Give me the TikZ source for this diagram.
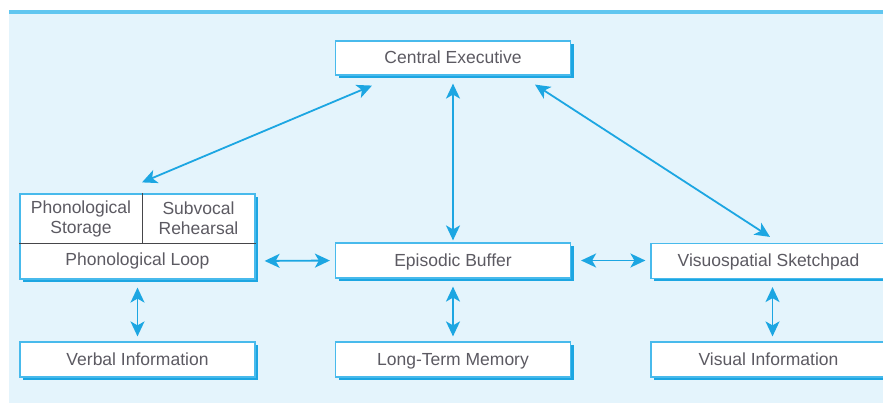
\documentclass[tikz,border=0pt]{standalone}
\usepackage{fontspec}
\setmainfont{Liberation Sans}
\usetikzlibrary{arrows.meta,shadows}
\definecolor{bgblue}{RGB}{228,244,252}
\definecolor{bandblue}{RGB}{96,198,240}
\definecolor{linkblue}{RGB}{28,166,226}
\definecolor{edgeblue}{RGB}{72,186,236}
\definecolor{textgrey}{RGB}{92,90,98}
\definecolor{splitgrey}{RGB}{70,70,74}
\tikzset{
  box/.style={draw=edgeblue, line width=1.2pt, fill=white, minimum width=235pt,
    minimum height=35pt, inner sep=0pt, text height=12.5pt, text depth=0.5pt,
    drop shadow={shadow xshift=3pt, shadow yshift=-3pt, fill=linkblue, opacity=1}},
  lbl/.style={text=textgrey, font=\fontsize{17.5}{20}\selectfont, align=center},
  link/.style={draw=linkblue, line width=1.8pt,
    {Stealth[length=15pt,width=14pt,inset=4pt]}-{Stealth[length=15pt,width=14pt,inset=4pt]}},
  divider/.style={draw=splitgrey, line width=0.9pt}
}
\begin{document}
\begin{tikzpicture}[x=1pt,y=-1pt]
\useasboundingbox (0,0) rectangle (883,403);
% Backdrop with the band on top
\fill[bgblue] (9,12) rectangle (883,403);
\draw[bandblue, line width=4.5pt] (9,12) -- (883,12);

% Boxes
\node[box, lbl, minimum height=34pt] (ce) at (453,58) {Central Executive};
\node[box, lbl] (eb) at (453,260.5) {Episodic Buffer};
\node[box, lbl] (vs) at (768.5,261) {Visuospatial Sketchpad};
\node[box, lbl] (verbal) at (137.5,359.5) {Verbal Information};
\node[box, lbl] (ltm) at (453,359.5) {Long-Term Memory};
\node[box, lbl] (visual) at (768.5,359.5) {Visual Information};

% Phonological loop with its two parts above
\node[box, minimum height=85pt] (phono) at (137.5,236.5) {};
\coordinate (split) at (142,243);
\draw[divider] (phono.west |- split) -- (phono.east |- split);
\draw[divider] (phono.north -| split) -- (split);
\node[lbl] (pstore) at (81,218.5) {Phonological\\Storage};
\node[lbl] (srehe) at (198.5,218.5) {Subvocal\\Rehearsal};
\node[lbl] (ploop) at (137.5,261) {Phonological Loop};

% Links from the central executive
\draw[link] ([xshift=-81pt,yshift=-10pt]ce.south) -- ([xshift=4.5pt,yshift=11pt]phono.north);
\draw[link, shorten <=8pt, shorten >=2pt] (ce.south) -- (eb.north);
\draw[link] ([xshift=82pt,yshift=-9pt]ce.south) -- ([xshift=1.5pt,yshift=6pt]vs.north);

% Links along the middle row
\draw[link, shorten <=9pt, shorten >=5pt] (phono.east |- ploop) -- (eb.west);
\draw[link, shorten <=10pt, shorten >=5pt] (eb.east) -- (vs.west |- eb);

% Links down to the bottom row
\foreach \a/\b/\s in {phono/verbal/0,eb/ltm/0,vs/visual/4}
  \draw[link, shorten <=8pt, shorten >=5pt] ([xshift=\s pt]\a.south) -- ([xshift=\s pt]\b.north);
\end{tikzpicture}
\end{document}
